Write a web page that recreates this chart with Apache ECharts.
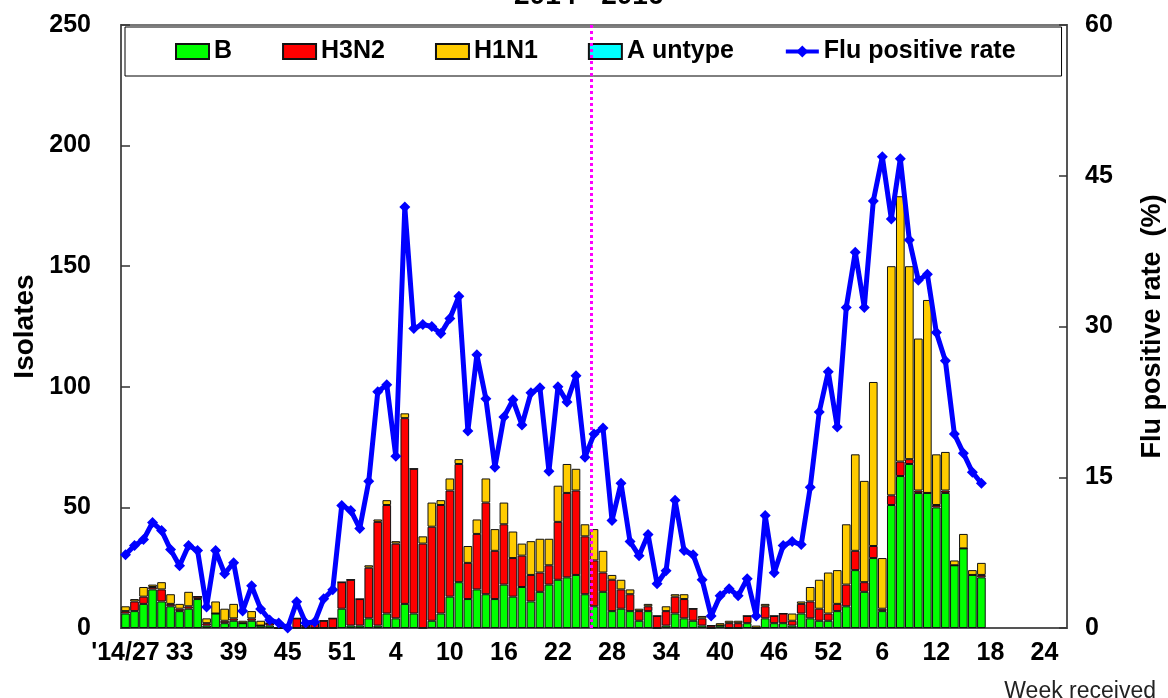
<!DOCTYPE html>
<html>
<head>
<meta charset="utf-8">
<script src="https://cdn.jsdelivr.net/npm/echarts@6/dist/echarts.min.js"></script>
<style>
html,body{margin:0;padding:0;background:#fff;}
#chart{width:1168px;height:698px;}
</style>
</head>
<body>
<div id="chart"></div>
<script>
// Week categories: 2014/27-53, 2015/1-52, 2016/1-26
const weeks = ["'14/27","28","29","30","31","32","33","34","35","36","37","38","39","40","41","42","43","44","45","46","47","48","49","50","51","52","53",
"1","2","3","4","5","6","7","8","9","10","11","12","13","14","15","16","17","18","19","20","21","22","23","24","25","26","27","28","29","30","31","32","33","34","35","36","37","38","39","40","41","42","43","44","45","46","47","48","49","50","51","52",
"1","2","3","4","5","6","7","8","9","10","11","12","13","14","15","16","17","18","19","20","21","22","23","24","25","26"];

const fluB = [6,7,10,16,11,9,7,8,12,1, 6,2,3,2,3,1,1,0,0,0, 0,0,0,0,8,1,1,4,1,6, 4,10,6,0,3,6,13,19,12,16,
  14,12,18,13,17,11,15,18,20,21, 22,14,9,15,7,8,7,3,7,0, 1,6,4,3,1,0,1,0,0,2, 0,4,2,2,1,6,4,3,3,7,
  9,24,15,29,7,51,63,68,56,56, 50,56,26,33,22,21];
const h3n2 = [1,4,3,1,5,1,1,1,1,1, 0,1,1,0,1,0,1,0,0,4, 1,2,3,4,11,19,11,21,43,45, 31,77,60,35,39,45,44,49,15,23,
  38,20,25,16,13,11,8,8,24,35, 35,24,19,8,13,8,7,4,2,5, 6,7,8,5,3,1,0,2,2,3, 0,5,3,4,2,4,7,5,3,3,
  9,8,4,5,1,4,6,2,1,0, 1,1,0,0,0,1];
const h1n1 = [2,1,4,1,3,4,2,6,0,2, 5,5,6,1,3,2,0,0,0,0, 0,0,0,0,0,0,0,1,1,2, 1,2,0,3,10,2,5,2,7,6,
  10,9,9,11,5,14,14,11,15,12, 9,5,13,9,2,4,2,1,1,0, 2,1,2,0,1,0,1,1,1,0, 1,1,0,0,3,1,6,12,17,14,
  25,40,42,68,21,95,110,80,63,80, 21,16,2,6,2,5];
const aUntype = [];
const positiveRate = [7.3,8.2,8.8,10.5,9.7,7.8,6.2,8.2,7.7,2.1, 7.7,5.4,6.5,1.7,4.2,1.9,0.8,0.5,0,2.6,
  0.5,0.6,2.9,3.8,12.2,11.7,9.9,14.6,23.5,24.2, 17.1,41.9,29.8,30.2,30.0,29.3,30.8,33.0,19.6,27.2,
  22.8,16.0,21.0,22.7,20.2,23.4,23.9,15.6,24.0,22.5, 25.1,17.0,19.3,19.9,10.7,14.4,8.6,7.2,9.3,4.4,
  5.7,12.7,7.7,7.3,4.8,1.2,3.2,3.9,3.2,4.9, 1.2,11.2,5.5,8.2,8.6,8.3,14.0,21.5,25.5,20.0,
  31.9,37.4,31.9,42.5,46.9,40.7,46.7,38.6,34.6,35.2, 29.4,26.6,19.3,17.4,15.5,14.4];
const seasonBreak = 52.2; // position (in weeks from start) of the dotted season divider

const FF = "'Liberation Sans', Arial, sans-serif";
const chart = echarts.init(document.getElementById('chart'), null, {renderer:'canvas'});
const barStyle = (c) => ({color:c, borderColor:'#111', borderWidth:1});

chart.setOption({
  animation:false,
  backgroundColor:'#fff',
  title:[
    {text:'2014 - 2016', left:514, top:-18, padding:0,
     textStyle:{fontFamily:FF, fontWeight:'bold', fontSize:28, color:'#000'}},
    {text:'Week received', right:12, bottom:-5, padding:0,
     textStyle:{fontFamily:FF, fontWeight:'normal', fontSize:23, color:'#222'}}
  ],
  legend:{
    left:125, top:27, padding:[12,46,12,50], itemGap:50, itemWidth:33, itemHeight:15,
    borderColor:'#000', borderWidth:1, backgroundColor:'#fff',
    textStyle:{fontFamily:FF, fontWeight:'bold', fontSize:25, color:'#000'},
    data:[{name:'B', icon:'rect'},{name:'H3N2', icon:'rect'},{name:'H1N1', icon:'rect'},{name:'A untype', icon:'rect'},
          {name:'Flu positive rate', lineStyle:{width:4, color:'#0000ff'}}]
  },
  grid:{left:121, right:101, top:25, bottom:70, outerBoundsMode:'none', containLabel:false,
        show:true, borderColor:'#777', borderWidth:2, backgroundColor:'transparent'},
  xAxis:[
    {type:'category', data:weeks, boundaryGap:true,
     axisLine:{lineStyle:{color:'#555', width:2}},
     axisTick:{interval:5, length:8, lineStyle:{color:'#555', width:1.5}},
     axisLabel:{interval:5, margin:13, fontFamily:FF, fontSize:25, fontWeight:'bold', color:'#000'},
     splitLine:{show:false}},
    {type:'value', min:0, max:weeks.length, show:false}
  ],
  yAxis:[
    {type:'value', min:0, max:250, interval:50, position:'left',
     name:'Isolates', nameLocation:'middle', nameGap:82, nameRotate:90, nameMoveOverlap:false,
     nameTextStyle:{fontFamily:FF, fontWeight:'bold', fontSize:28, color:'#000'},
     axisLine:{show:true, lineStyle:{color:'#555', width:2}},
     axisTick:{show:true, inside:true, length:9, lineStyle:{color:'#333', width:1.5}},
     axisLabel:{margin:30, fontFamily:FF, fontSize:25, fontWeight:'bold', color:'#000'},
     splitLine:{show:false}},
    {type:'value', min:0, max:60, interval:15, position:'right',
     name:'Flu positive rate  (%)', nameLocation:'middle', nameGap:72, nameRotate:90, nameMoveOverlap:false,
     nameTextStyle:{fontFamily:FF, fontWeight:'bold', fontSize:27, color:'#000'},
     axisLine:{show:true, lineStyle:{color:'#555', width:2}},
     axisTick:{show:true, inside:true, length:8, lineStyle:{color:'#333', width:1.5}},
     axisLabel:{margin:18, fontFamily:FF, fontSize:25, fontWeight:'bold', color:'#000'},
     splitLine:{show:false}}
  ],
  series:[
    {name:'B', type:'bar', stack:'iso', data:fluB, barCategoryGap:'4%', itemStyle:barStyle('#00ff00')},
    {name:'H3N2', type:'bar', stack:'iso', data:h3n2, itemStyle:barStyle('#ff0000')},
    {name:'H1N1', type:'bar', stack:'iso', data:h1n1, itemStyle:barStyle('#ffcc00')},
    {name:'A untype', type:'bar', stack:'iso', data:aUntype, itemStyle:barStyle('#00ffff')},
    {name:'Flu positive rate', type:'line', yAxisIndex:1, data:positiveRate, z:5,
     showSymbol:true, showAllSymbol:true,
     symbol:'diamond', symbolSize:11, lineStyle:{color:'#0000ff', width:5}, itemStyle:{color:'#0000ff'}},
    {name:'divider', type:'line', xAxisIndex:1, yAxisIndex:0, data:[], silent:true,
     markLine:{silent:true, symbol:['none','none'], label:{show:false},
       lineStyle:{color:'#ff00ff', type:[3,3], width:3},
       data:[{xAxis:seasonBreak}]}}
  ]
});
</script>
</body>
</html>
